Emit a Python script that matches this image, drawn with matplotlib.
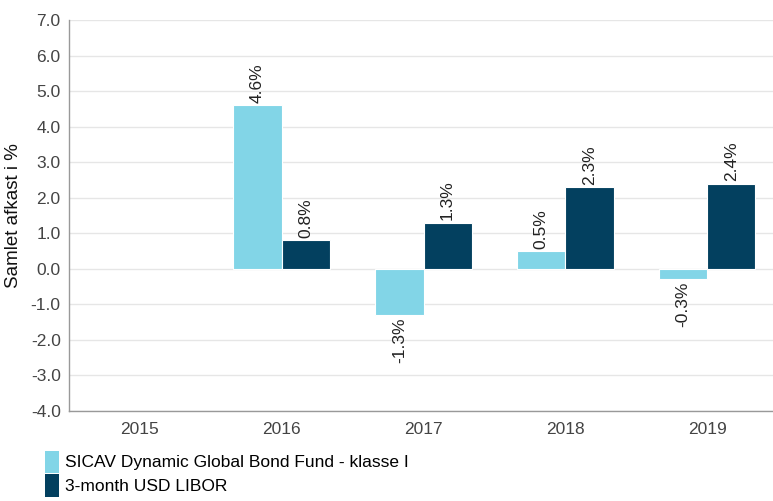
import numpy as np
import matplotlib.pyplot as plt
from matplotlib.patches import Patch

years = ['2015', '2016', '2017', '2018', '2019']
fund = [np.nan, 4.6, -1.3, 0.5, -0.3]
libor = [np.nan, 0.8, 1.3, 2.3, 2.4]
series_names = ['SICAV Dynamic Global Bond Fund - klasse I', '3-month USD LIBOR']
yticks = np.arange(-4.0, 7.01, 1.0)

c_fund = '#82d5e7'
c_libor = '#03405f'

plt.rcParams['font.family'] = ['Liberation Sans', 'DejaVu Sans']

fig = plt.figure(figsize=(7.73, 5.01), dpi=100)
ax = fig.add_axes([69 / 773, 90 / 501, 709 / 773, 391 / 501])

x = np.arange(len(years))
w = 0.34
b1 = ax.bar(x - w / 2, fund, w, color=c_fund, edgecolor='white', linewidth=0.8, zorder=3)
b2 = ax.bar(x + w / 2, libor, w, color=c_libor, edgecolor='white', linewidth=0.8, zorder=3)

# value labels, rotated, above positive bars and below negative ones
for bars, vals in [(b1, fund), (b2, libor)]:
    for rect, v in zip(bars, vals):
        if np.isnan(v):
            continue
        cx = rect.get_x() + rect.get_width() / 2
        off = 0.06 if v >= 0 else -0.06
        ax.text(cx, v + off, f'{v:.1f}%', rotation=90, ha='center',
                va='bottom' if v >= 0 else 'top', fontsize=12.5, color='#222222', zorder=4)

ax.set_xlim(-0.5, len(years) - 0.5)
ax.set_ylim(-4, 7)
ax.set_yticks(yticks)
ax.set_yticklabels([f'{t:.1f}' for t in yticks])
ax.set_xticks(x)
ax.set_xticklabels(years)
ax.tick_params(axis='both', length=0, labelsize=12.5, colors='#444444')
ax.tick_params(axis='y', pad=6)
ax.tick_params(axis='x', pad=8)
ax.grid(axis='y', color='#e6e6e6', linewidth=1, zorder=0)
for s in ['top', 'right']:
    ax.spines[s].set_visible(False)
for s in ['left', 'bottom']:
    ax.spines[s].set_color('#999999')
    ax.spines[s].set_linewidth(1)
ax.set_ylabel('Samlet afkast i %', fontsize=13.5, color='#111111', labelpad=6)

handles = [Patch(facecolor=c_fund), Patch(facecolor=c_libor)]
fig.legend(handles, series_names, loc='lower left', bbox_to_anchor=(38 / 773, -0.005),
           frameon=False, fontsize=12.5, handlelength=0.8,
           handleheight=1.6, handletextpad=0.35, labelspacing=0.08, borderaxespad=0)

fig.savefig('out.png', dpi=100)
